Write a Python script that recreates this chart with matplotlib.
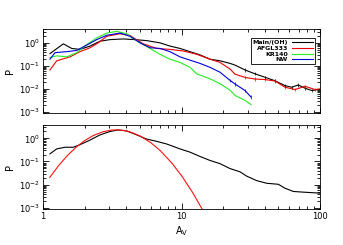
import numpy as np
import matplotlib
matplotlib.use("Agg")
import matplotlib.pyplot as plt
from matplotlib.ticker import LogLocator, NullFormatter, FixedLocator

plt.rcParams['font.family'] = ['DejaVu Sans']
plt.rcParams['mathtext.default'] = 'regular'

# ---- top panel data ----
main_x = [1.123, 1.402, 1.611, 1.850, 2.185, 2.580, 3.046, 3.80, 4.62, 5.61, 7.00, 8.26, 9.75,
          11.52, 13.60, 16.06, 18.97, 22.39, 24.34, 28.74, 33.94, 40.08, 47.32, 55.88, 62.48,
          69.7, 77.9, 87.1, 100.0]
main_y = [0.340, 0.906, 0.572, 0.519, 0.724, 1.18, 1.38, 1.48, 1.38, 1.25, 1.0, 0.724, 0.572,
          0.414, 0.300, 0.195, 0.166, 0.128, 0.108, 0.0663, 0.045, 0.032, 0.0225, 0.0138, 0.0118,
          0.0148, 0.0107, 0.0085, 0.0095]

afgl_x = [1.123, 1.256, 1.566, 1.850, 2.185, 2.507, 2.884, 3.597, 4.248, 5.30, 6.62, 8.26, 10.30,
          12.88, 16.06, 18.97, 22.39, 24.34, 28.74, 33.94, 40.08, 47.32, 55.88, 66.0, 77.9, 92.0, 100.0]
afgl_y = [0.0663, 0.166, 0.246, 0.414, 0.613, 1.0, 1.93, 2.49, 2.08, 0.906, 0.572, 0.519, 0.443,
          0.318, 0.195, 0.141, 0.0731, 0.0435, 0.0315, 0.0267, 0.0254, 0.0219, 0.0118, 0.0093,
          0.0130, 0.0093, 0.010]

kr_x = [1.123, 1.256, 1.483, 1.751, 2.068, 2.442, 2.884, 3.405, 4.021, 4.62, 5.017, 5.925, 7.00,
        8.26, 9.75, 11.52, 12.88, 16.06, 18.97, 22.39, 24.34, 28.74, 31.75]
kr_y = [0.230, 0.272, 0.246, 0.375, 0.847, 1.63, 2.66, 3.15, 2.49, 1.38, 1.0, 0.572, 0.318,
        0.195, 0.141, 0.0863, 0.0448, 0.0274, 0.0168, 0.00881, 0.00519, 0.00318, 0.00208]

nw_x = [1.123, 1.221, 1.483, 1.751, 2.068, 2.442, 2.884, 3.597, 4.248, 5.017, 5.925, 7.00, 8.26,
        9.75, 11.52, 13.60, 16.06, 18.97, 22.39, 24.34, 28.74, 31.75]
nw_y = [0.195, 0.375, 0.414, 0.470, 0.798, 1.38, 2.13, 2.66, 1.93, 1.0, 0.613, 0.572, 0.414,
        0.246, 0.177, 0.128, 0.0863, 0.0529, 0.0235, 0.0163, 0.00847, 0.00443]

# ---- bottom panel data ----
tot_x = [1.123, 1.256, 1.442, 1.655, 1.850, 2.185, 2.580, 3.046, 3.498, 4.021, 4.75, 5.61, 6.62,
         7.82, 9.75, 11.52, 13.60, 16.06, 18.97, 22.39, 26.45, 29.57, 34.91, 41.23, 50.0, 55.88,
         64.16, 75.8, 100.0]
tot_y = [0.215, 0.351, 0.414, 0.414, 0.534, 0.847, 1.42, 1.99, 2.32, 2.11, 1.42, 0.934, 0.745,
         0.572, 0.351, 0.254, 0.165, 0.111, 0.0805, 0.0494, 0.0357, 0.0232, 0.0148, 0.0114,
         0.0103, 0.00696, 0.00504, 0.00470, 0.00426]

fit_x = [1.12, 1.3, 1.5, 1.75, 2.0, 2.3, 2.7, 3.1, 3.4, 3.8, 4.3, 5.0, 6.0, 7.0, 8.5, 10.0, 12.0, 14.0, 15.0]
fit_y = [0.0206, 0.0678, 0.181, 0.436, 0.805, 1.32, 1.93, 2.28, 2.34, 2.22, 1.87, 1.29, 0.654,
         0.301, 0.0867, 0.0245, 0.00464, 0.00093, 0.00043]

labels = ["Main/(OH)", "AFGL333", "KR140", "NW"]
colors = ["black", "#ee0000", "#22ee22", "#0000dd"]

W, H = 343, 245
fig = plt.figure(figsize=(W / 100, H / 100), dpi=100)
left, right = 43 / W, 320 / W
ax1 = fig.add_axes([left, 1 - 113.5 / H, right - left, (113.5 - 29) / H])
ax2 = fig.add_axes([left, 1 - 209.3 / H, right - left, (209.3 - 124.5) / H])

lw = 0.8
ax1.plot(main_x, main_y, color=colors[0], lw=lw, label=labels[0])
ax1.plot(afgl_x, afgl_y, color=colors[1], lw=lw, label=labels[1])
ax1.plot(kr_x, kr_y, color=colors[2], lw=lw, label=labels[2])
ax1.plot(nw_x, nw_y, color=colors[3], lw=lw, label=labels[3])

# small error bars on tails
for xs, ys, c, xmin in [(main_x, main_y, colors[0], 25), (afgl_x, afgl_y, colors[1], 25),
                        (nw_x, nw_y, colors[3], 20)]:
    xs = np.array(xs); ys = np.array(ys)
    m = xs > xmin
    ax1.errorbar(xs[m], ys[m], yerr=[ys[m] * 0.15, ys[m] * 0.18], fmt='none',
                 ecolor=c, elinewidth=0.5, capsize=0)

ax2.plot(tot_x, tot_y, color='black', lw=lw)
ax2.plot(fit_x, fit_y, color='#ff1111', lw=lw)

for ax in (ax1, ax2):
    ax.set_xscale('log')
    ax.set_yscale('log')
    ax.set_xlim(1, 100)
    ax.set_ylim(8.5e-4, 4)
    ax.yaxis.set_major_locator(FixedLocator([1e-3, 1e-2, 1e-1, 1]))
    ax.yaxis.set_minor_locator(LogLocator(base=10, subs=np.arange(2, 10), numticks=20))
    ax.yaxis.set_minor_formatter(NullFormatter())
    ax.xaxis.set_major_locator(FixedLocator([1, 10, 100]))
    ax.xaxis.set_minor_locator(LogLocator(base=10, subs=np.arange(2, 10), numticks=20))
    ax.xaxis.set_minor_formatter(NullFormatter())
    ax.tick_params(which='both', direction='in', top=True, right=True, width=0.6, labelsize=6, pad=2)
    ax.tick_params(which='major', length=4.5)
    ax.tick_params(which='minor', length=2.5)
    for s in ax.spines.values():
        s.set_linewidth(0.6)
    ax.set_yticklabels([r'$10^{-3}$', r'$10^{-2}$', r'$10^{-1}$', r'$10^{0}$'])
    ax.set_ylabel('P', fontsize=7, labelpad=3)

ax1.set_xticklabels([])
ax2.set_xticklabels(['1', '10', '100'])
ax2.set_xlabel(r'A$_V$', fontsize=7, labelpad=2)

leg = ax1.legend(loc='upper right', bbox_to_anchor=(318 / W, 1 - 35 / H), bbox_transform=fig.transFigure,
                 fontsize=4.5, markerfirst=False, handlelength=3.4, handletextpad=0.6,
                 labelspacing=0.05, borderpad=0.3, fancybox=False, framealpha=1, edgecolor='black')
leg.get_frame().set_linewidth(0.6)
for t in leg.get_texts():
    t.set_fontweight('bold')

fig.savefig('out.png', dpi=100)
